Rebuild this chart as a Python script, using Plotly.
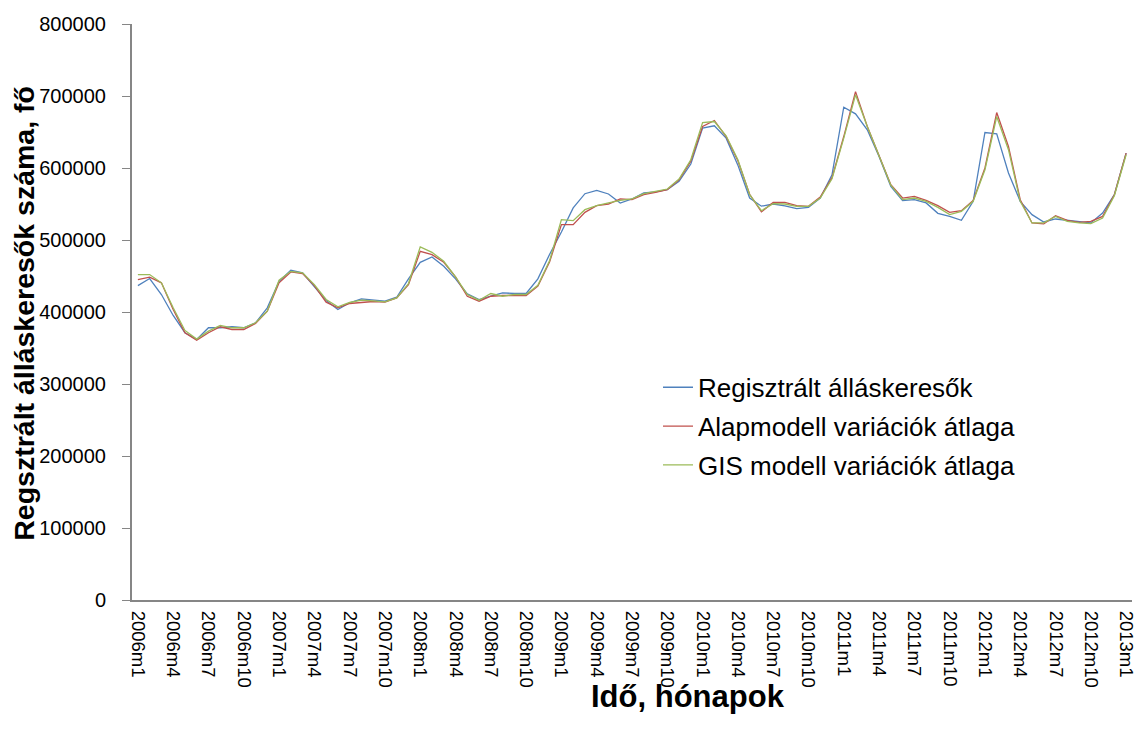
import plotly.graph_objects as go

# Month labels 2006m1 .. 2013m1
months = [f"{y}m{m}" for y in range(2006, 2013) for m in range(1, 13)] + ["2013m1"]

regisztralt = [
    436700, 446500, 424300, 395200, 371200, 361900, 378100, 378100, 379500, 378100, 385000, 405800,
    442700, 458000, 454400, 435800, 416000, 403500, 412800, 418300, 416400, 415000, 420500, 446000,
    469000, 476500, 463500, 446000, 425200, 417300, 421900, 426600, 425700, 425700, 446000, 480200,
    511200, 544500, 564300, 568900, 563900, 551400, 557000, 565300, 566700, 569900, 581400, 605500,
    655400, 658600, 641500, 604000, 558300, 547000, 550000, 547500, 543500, 545300, 558300, 590600,
    684500, 675200, 653000, 616000, 574400, 554600, 556000, 551500, 537000, 532800, 527300, 553700,
    649300, 647500, 593000, 553700, 535200, 525000, 529200, 527300, 525900, 523700, 537500, 562900,
    620700,
]
alapmodell = [
    445100, 448300, 440500, 403500, 371200, 360900, 371200, 379500, 375700, 375700, 384100, 401100,
    440500, 455700, 453400, 436700, 413600, 405800, 411800, 413600, 414600, 413600, 419500, 438000,
    484300, 479700, 469000, 448800, 421900, 415000, 421900, 422900, 422900, 422900, 436000, 469700,
    521300, 521300, 538400, 547700, 550000, 557000, 556000, 562900, 566100, 569900, 583700, 609500,
    657600, 666000, 643700, 610000, 563500, 539000, 552200, 552200, 547700, 546700, 559700, 586600,
    643700, 706100, 657600, 616000, 576800, 558300, 560600, 555000, 547700, 538400, 540700, 555000,
    600000, 677000, 629900, 556000, 523700, 522300, 533800, 527300, 524500, 525900, 532800, 562900,
    620700,
]
gis_modell = [
    452000, 452000, 440500, 405800, 374400, 362300, 373400, 381300, 378100, 378100, 385000, 401100,
    444100, 456500, 454400, 438100, 417400, 407200, 413200, 416400, 415500, 414000, 419500, 439500,
    490400, 482900, 470400, 448800, 424300, 416400, 425700, 421900, 424300, 424300, 437000, 471600,
    528300, 526900, 542100, 547700, 551400, 555000, 557000, 564300, 567500, 570800, 584700, 611500,
    663200, 664600, 644700, 611400, 562900, 540700, 550400, 550000, 546700, 546700, 558300, 585000,
    641500, 701600, 657600, 616000, 576000, 556000, 558300, 553700, 545300, 535200, 539800, 553700,
    597600, 671400, 625400, 553700, 523700, 523700, 532800, 525900, 523700, 522700, 530500, 561500,
    618400,
]

series_names = ["Regisztrált álláskeresők", "Alapmodell variációk átlaga", "GIS modell variációk átlaga"]
series_values = [regisztralt, alapmodell, gis_modell]
series_colors = ["#4F81BD", "#C0504D", "#9BBB59"]

x_title = "Idő, hónapok"
y_title = "Regsztrált álláskeresők száma, fő"

x_idx = list(range(len(months)))
tick_idx = x_idx[::3]
tick_txt = [months[i] for i in tick_idx]

fig = go.Figure()
for i, (name, vals, col) in enumerate(zip(series_names, series_values, series_colors)):
    fig.add_trace(go.Scatter(
        x=x_idx, y=vals, mode="lines", name=name,
        line=dict(color=col, width=1.3),
        legendgroup=f"g{i}",
    ))

FONT = "Liberation Sans, Arial, sans-serif"
fig.update_layout(
    width=1136, height=731,
    margin=dict(l=132, r=4, t=24, b=131, autoexpand=False),
    plot_bgcolor="white", paper_bgcolor="white",
    font=dict(family=FONT, color="black"),
    showlegend=True,
    legend=dict(
        x=0.526, y=0.41, xanchor="left", yanchor="top",
        font=dict(size=26, family=FONT, color="black"),
        bgcolor="rgba(0,0,0,0)", tracegroupgap=2, itemwidth=30,
    ),
    xaxis=dict(
        range=[-0.5, len(months) - 0.5], automargin=False,
        tickmode="array", tickvals=tick_idx, ticktext=tick_txt,
        tickangle=90, tickfont=dict(size=18.5, family=FONT),
        ticklabelstandoff=5, ticklabeloverflow="allow",
        showline=True, linecolor="#868686", linewidth=2,
        ticks="", showgrid=False, zeroline=False,
    ),
    yaxis=dict(
        range=[0, 800000], dtick=100000, tickformat="d", automargin=False,
        tickfont=dict(size=20, family=FONT),
        showline=True, linecolor="#868686", linewidth=2,
        ticks="outside", ticklen=8, tickcolor="#868686", tickwidth=1,
        ticklabelstandoff=12, ticklabeloverflow="allow",
        showgrid=False, zeroline=False,
    ),
    annotations=[
        dict(text=f"<b>{x_title}</b>", xref="paper", yref="paper",
             x=0.556, y=-0.168, xanchor="center", yanchor="middle", showarrow=False,
             font=dict(size=31, family=FONT, color="black")),
        dict(text=f"<b>{y_title}</b>", xref="paper", yref="paper",
             x=-0.108, y=0.497, xanchor="center", yanchor="middle", showarrow=False,
             textangle=-90, font=dict(size=28.5, family=FONT, color="black")),
    ],
)

# remove the page's default body margin so the figure sits at the window's corner
fig.write_html(
    "out.html",
    config={"displayModeBar": False},
    post_script="document.body.style.margin='0';document.body.style.overflow='hidden';",
)
